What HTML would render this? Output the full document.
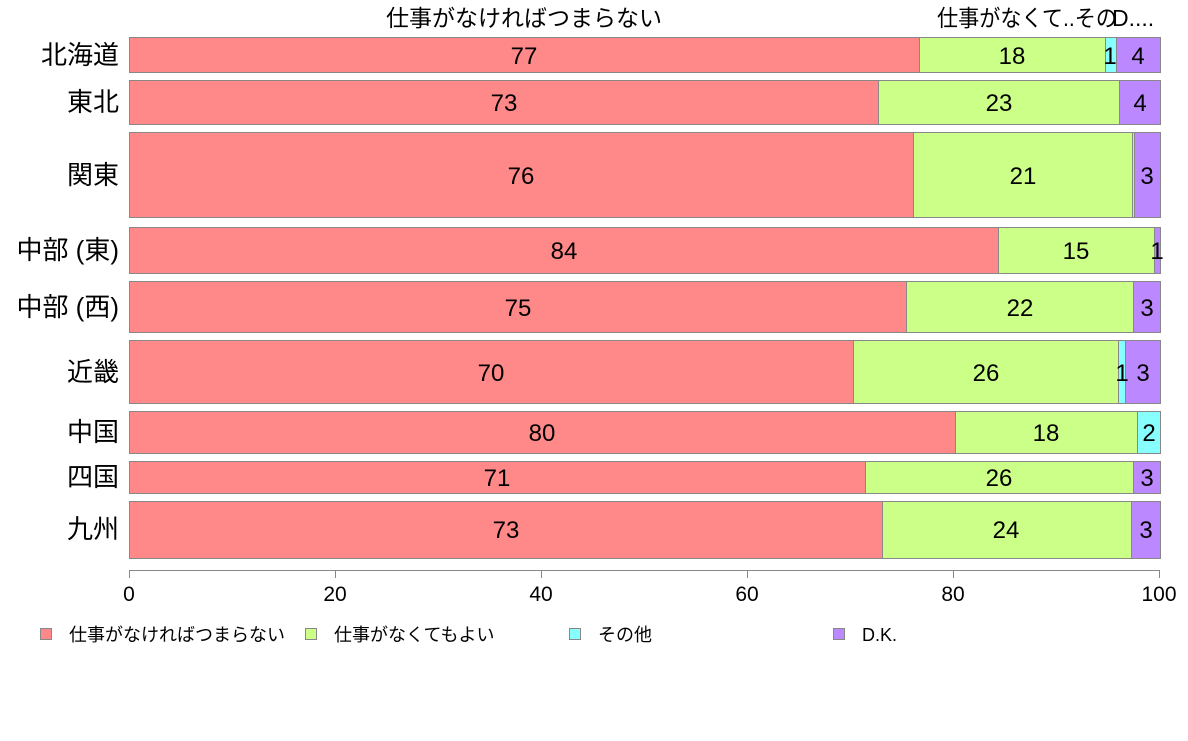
<!DOCTYPE html>
<html><head><meta charset="utf-8"><style>
html,body{margin:0;padding:0;background:#fff;}
svg text{font-family:"Liberation Sans","Noto Sans CJK JP",sans-serif;fill:#000;}
</style></head><body>
<svg width="1188" height="736" viewBox="0 0 1188 736" xmlns="http://www.w3.org/2000/svg">
<g stroke="#888" stroke-width="1">
<rect x="129.5" y="37.5" width="790" height="35" fill="#ff8888"/>
<rect x="919.5" y="37.5" width="186" height="35" fill="#ccff88"/>
<rect x="1105.5" y="37.5" width="11" height="35" fill="#88ffff"/>
<rect x="1116.5" y="37.5" width="44" height="35" fill="#bb88ff"/>
<rect x="129.5" y="80.5" width="749" height="44" fill="#ff8888"/>
<rect x="878.5" y="80.5" width="241" height="44" fill="#ccff88"/>
<rect x="1119.5" y="80.5" width="41" height="44" fill="#bb88ff"/>
<rect x="129.5" y="132.5" width="784" height="85" fill="#ff8888"/>
<rect x="913.5" y="132.5" width="219" height="85" fill="#ccff88"/>
<rect x="1132.5" y="132.5" width="2" height="85" fill="#88ffff"/>
<rect x="1134.5" y="132.5" width="26" height="85" fill="#bb88ff"/>
<rect x="129.5" y="227.5" width="869" height="46" fill="#ff8888"/>
<rect x="998.5" y="227.5" width="156" height="46" fill="#ccff88"/>
<rect x="1154.5" y="227.5" width="6" height="46" fill="#bb88ff"/>
<rect x="129.5" y="281.5" width="777" height="51" fill="#ff8888"/>
<rect x="906.5" y="281.5" width="227" height="51" fill="#ccff88"/>
<rect x="1133.5" y="281.5" width="27" height="51" fill="#bb88ff"/>
<rect x="129.5" y="340.5" width="724" height="63" fill="#ff8888"/>
<rect x="853.5" y="340.5" width="265" height="63" fill="#ccff88"/>
<rect x="1118.5" y="340.5" width="7" height="63" fill="#88ffff"/>
<rect x="1125.5" y="340.5" width="35" height="63" fill="#bb88ff"/>
<rect x="129.5" y="411.5" width="826" height="42" fill="#ff8888"/>
<rect x="955.5" y="411.5" width="182" height="42" fill="#ccff88"/>
<rect x="1137.5" y="411.5" width="23" height="42" fill="#88ffff"/>
<rect x="129.5" y="461.5" width="736" height="32" fill="#ff8888"/>
<rect x="865.5" y="461.5" width="268" height="32" fill="#ccff88"/>
<rect x="1133.5" y="461.5" width="27" height="32" fill="#bb88ff"/>
<rect x="129.5" y="501.5" width="753" height="57" fill="#ff8888"/>
<rect x="882.5" y="501.5" width="249" height="57" fill="#ccff88"/>
<rect x="1131.5" y="501.5" width="29" height="57" fill="#bb88ff"/>
</g>
<g font-size="24" text-anchor="middle">
<text x="524" y="64">77</text><text x="1012" y="64">18</text><text x="1110" y="64">1</text><text x="1138" y="64">4</text>
<text x="504" y="111">73</text><text x="999" y="111">23</text><text x="1140" y="111">4</text>
<text x="521" y="184">76</text><text x="1023" y="184">21</text><text x="1147" y="184">3</text>
<text x="564" y="259">84</text><text x="1076" y="259">15</text><text x="1157" y="259">1</text>
<text x="518" y="316">75</text><text x="1020" y="316">22</text><text x="1147" y="316">3</text>
<text x="491" y="381">70</text><text x="986" y="381">26</text><text x="1122" y="381">1</text><text x="1143" y="381">3</text>
<text x="542" y="441">80</text><text x="1046" y="441">18</text><text x="1149" y="441">2</text>
<text x="497" y="486">71</text><text x="999" y="486">26</text><text x="1147" y="486">3</text>
<text x="506" y="538">73</text><text x="1006" y="538">24</text><text x="1146" y="538">3</text>
</g>
<g font-size="26" text-anchor="end">
<text x="119" y="64">北海道</text>
<text x="119" y="111">東北</text>
<text x="119" y="184">関東</text>
<text x="119" y="259">中部 (東)</text>
<text x="119" y="316">中部 (西)</text>
<text x="119" y="381">近畿</text>
<text x="119" y="441">中国</text>
<text x="119" y="486">四国</text>
<text x="119" y="538">九州</text>
</g>
<g font-size="23">
<text x="524" y="26" text-anchor="middle">仕事がなければつまらない</text>
<text x="937" y="26" textLength="180" lengthAdjust="spacingAndGlyphs">仕事がなくて..その</text>
<text x="1112" y="26">D....</text>
</g>
<g stroke="#888" stroke-width="1">
<line x1="129" y1="570.5" x2="1160" y2="570.5"/>
<line x1="129.5" y1="570" x2="129.5" y2="578"/>
<line x1="335.5" y1="570" x2="335.5" y2="578"/>
<line x1="541.5" y1="570" x2="541.5" y2="578"/>
<line x1="747.5" y1="570" x2="747.5" y2="578"/>
<line x1="953.5" y1="570" x2="953.5" y2="578"/>
<line x1="1159.5" y1="570" x2="1159.5" y2="578"/>
</g>
<g font-size="21" text-anchor="middle">
<text x="129" y="601">0</text><text x="335" y="601">20</text><text x="541" y="601">40</text>
<text x="747" y="601">60</text><text x="953" y="601">80</text><text x="1159" y="601">100</text>
</g>
<g stroke="#888" stroke-width="1">
<rect x="40.5" y="628.5" width="11" height="11" fill="#ff8888"/>
<rect x="305.5" y="628.5" width="11" height="11" fill="#ccff88"/>
<rect x="569.5" y="628.5" width="11" height="11" fill="#88ffff"/>
<rect x="833.5" y="628.5" width="11" height="11" fill="#bb88ff"/>
</g>
<g font-size="18">
<text x="69" y="641">仕事がなければつまらない</text>
<text x="334" y="641">仕事がなくてもよい</text>
<text x="598" y="641">その他</text>
<text x="862" y="641">D.K.</text>
</g>
</svg>
</body></html>
